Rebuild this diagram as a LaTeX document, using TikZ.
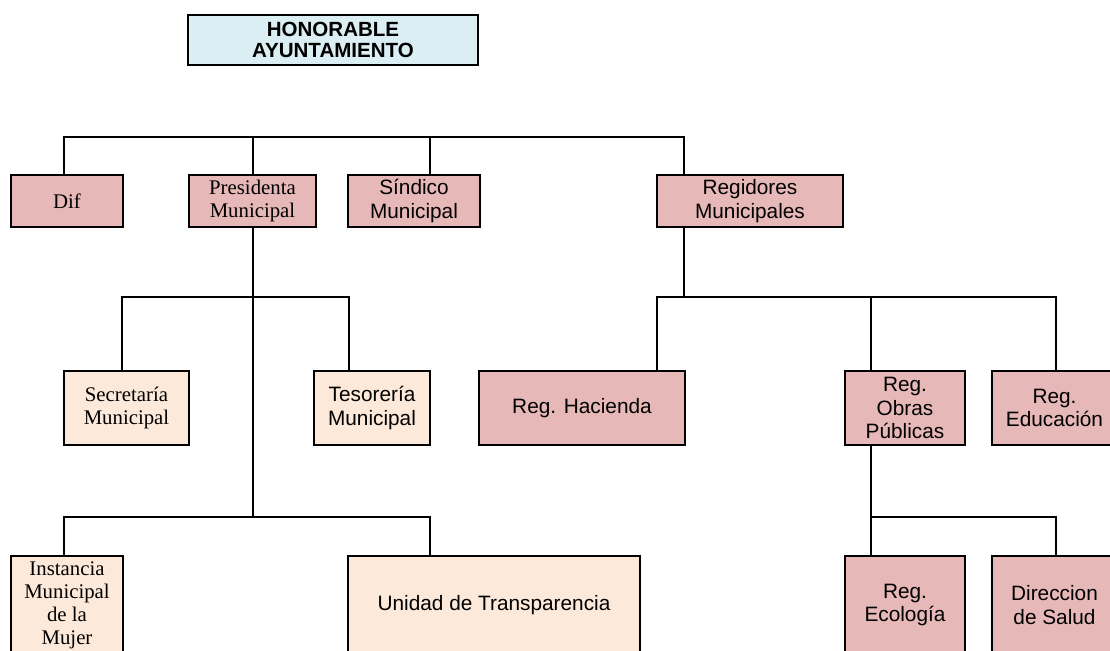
\documentclass[tikz,border=0pt]{standalone}
\usepackage{fontspec}
\setmainfont{Liberation Serif}
\setsansfont{Liberation Sans}
\definecolor{rosa}{RGB}{230,184,183}
\definecolor{durazno}{RGB}{252,233,217}
\definecolor{celeste}{RGB}{219,238,243}
\tikzset{
  unit/.style={draw=black, line width=2.2pt, inner sep=0pt, align=center,
    font=\fontsize{15.4}{17.4}\selectfont},
  sz/.style 2 args={minimum width=#1*0.75pt, minimum height=#2*0.75pt},
  rosabox/.style={unit, fill=rosa},
  duraznobox/.style={unit, fill=durazno},
  serifo/.style={font=\rmfamily\fontsize{15.6}{17.2}\selectfont},
  sanso/.style={font=\sffamily\fontsize{15.6}{17.6}\selectfont},
  conn/.style={draw=black, line width=1.9pt},
}
\begin{document}
\begin{tikzpicture}[x=0.75pt,y=-0.75pt]
\path[use as bounding box, clip] (0,0) rectangle (1110,650);

% head of the organisation
\node[unit, fill=celeste, sz={290}{50},
      font=\sffamily\bfseries\fontsize{15.4}{16.3}\selectfont] (hon) at (333,40)
      {HONORABLE\\AYUNTAMIENTO};

% first level
\node[rosabox, serifo, sz={112}{52}] (dif)  at (67,201)    {Dif};
\node[rosabox, serifo, sz={127}{52}] (pres) at (252.5,201) {Presidenta\\Municipal};
\node[rosabox, sanso,  sz={132}{52}] (sind) at (414,201)   {Síndico\\Municipal};
\node[rosabox, sanso,  sz={186}{52}] (regi) at (750,201)   {Regidores\\Municipales};

% second level
\node[duraznobox, serifo, sz={125}{74}] (secr) at (126.5,408) {Secretaría\\Municipal};
\node[duraznobox, sanso,  sz={116}{74}] (teso) at (372,408)   {Tesorería\\Municipal};
\node[rosabox, sanso, sz={206}{74}] (haci)  at (582,408)    {Reg. Hacienda};
\node[rosabox, sanso, sz={120}{74}] (obras) at (905,408)    {Reg.\\Obras\\Públicas};
\node[rosabox, sanso, sz={125}{74}] (educ)  at (1054.5,408) {Reg.\\Educación};

% third level
\node[duraznobox, serifo, sz={112}{98}] (inst) at (67,605)  {Instancia\\Municipal\\de la\\Mujer};
\node[duraznobox, sanso,  sz={292}{98}] (unid) at (494,605) {Unidad de Transparencia};
\node[rosabox, sanso, sz={120}{98}] (ecol)  at (905,605)    {Reg.\\Ecología};
\node[rosabox, sanso, sz={125}{98}] (salud) at (1054.5,605) {Direccion\\de Salud};

% bus points
\coordinate (t1) at (64,137);
\coordinate (t2) at (253,137);
\coordinate (t3) at (430,137);
\coordinate (t4) at (684,137);
\coordinate (s1) at (122,297);
\coordinate (s2) at (349,297);
\coordinate (p2) at (253,517);
\coordinate (u1) at (64,517);
\coordinate (u2) at (430,517);
\coordinate (r0) at (684,297);
\coordinate (r1) at (657,297);
\coordinate (r2) at (871,297);
\coordinate (r3) at (1056,297);
\coordinate (o1) at (871,517);
\coordinate (o2) at (1056,517);

% connectors
\draw[conn] (t1 |- dif.north) -- (t1) -- (t4) -- (t4 |- regi.north);
\draw[conn] (t2) -- (t2 |- pres.north);
\draw[conn] (t3) -- (t3 |- sind.north);

\draw[conn] (t2 |- pres.south) -- (p2);
\draw[conn] (s1 |- secr.north) -- (s1) -- (s2) -- (s2 |- teso.north);
\draw[conn] (u1 |- inst.north) -- (u1) -- (u2) -- (u2 |- unid.north);

\draw[conn] (r0 |- regi.south) -- (r0);
\draw[conn] (r1 |- haci.north) -- (r1) -- (r3) -- (r3 |- educ.north);
\draw[conn] (r2) -- (r2 |- obras.north);

\draw[conn] (o1 |- obras.south) -- (o1) -- (o2) -- (o2 |- salud.north);
\draw[conn] (o1) -- (o1 |- ecol.north);
\end{tikzpicture}
\end{document}
